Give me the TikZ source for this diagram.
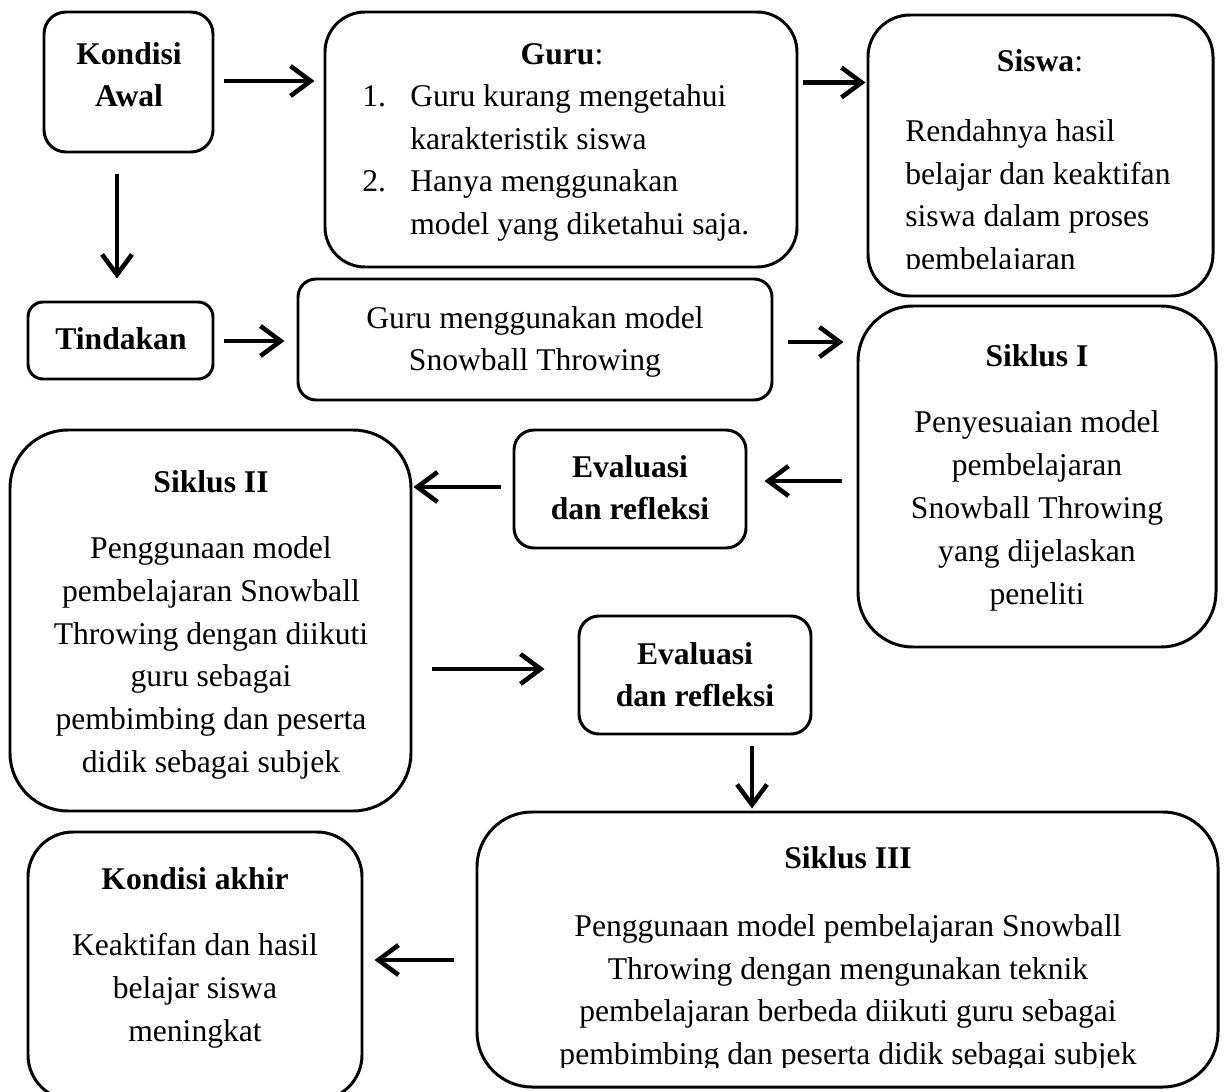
\documentclass[tikz,border=0pt]{standalone}
\usepackage{fontspec}
\setmainfont{Liberation Serif}
\usetikzlibrary{arrows.meta,calc,fit}
\newlength\pxu
\setlength\pxu{0.02cm}
\begin{document}
\begin{tikzpicture}[x=0.02cm,y=-0.02cm,
  box/.style={draw, line width=1.7pt, inner sep=0pt},
  txt/.style={inner sep=0pt, font={\fontsize{18}{24.4}\selectfont}, align=center,
    execute at begin node=\strut, execute at end node=\strut},
  arr/.style={line width=2.6pt, -{Straight Barb[length=11.5pt,width=17pt]}}]
\useasboundingbox (0,0) rectangle (1225,1092);

% boxes
\node[box, rounded corners=22\pxu, fit={(44,12)(213,152)}] (ka) {};
\node[box, rounded corners=40\pxu, fit={(325,12)(797,267)}] (guru) {};
\node[box, rounded corners=42\pxu, fit={(868,15)(1213,296)}] (siswa) {};
\node[box, rounded corners=15\pxu, fit={(28,302)(213,379)}] (tind) {};
\node[box, rounded corners=18\pxu, fit={(298,279)(772,400)}] (g2) {};
\node[box, rounded corners=55\pxu, fit={(858,306)(1216,647)}] (s1) {};
\node[box, rounded corners=58\pxu, fit={(10,430)(411,811)}] (s2) {};
\node[box, rounded corners=20\pxu, fit={(514,430)(746,548)}] (e1) {};
\node[box, rounded corners=20\pxu, fit={(579,616)(811,734)}] (e2) {};
\node[box, rounded corners=55\pxu, fit={(477,812)(1218,1087)}] (s3) {};
\node[box, rounded corners=45\pxu, fit={(28,832)(362,1100)}] (kak) {};

% texts
\node[txt] (kat) at (129,81) {\textbf{Kondisi}\\\textbf{Awal}};
\node[txt] (gurut) at (562,56) {\textbf{Guru}:};
\node[txt, align=left, anchor=west] (gurul) at (362,166)
  {\makebox[48\pxu][l]{1.}Guru kurang mengetahui\\
   \hspace*{48\pxu}karakteristik siswa\\
   \makebox[48\pxu][l]{2.}Hanya menggunakan\\
   \hspace*{48\pxu}model yang diketahui saja.};
\node[txt] (siswat) at (1040,63) {\textbf{Siswa}:};
\begin{scope}
  \clip (870,100) rectangle (1210,268);
  \node[txt, align=left, anchor=west] (siswab) at (905,201)
    {Rendahnya hasil\\belajar dan keaktifan\\siswa dalam proses\\pembelajaran};
\end{scope}
\node[txt] (tindt) at (121,341) {\textbf{Tindakan}};
\node[txt] (g2t) at (535,345) {Guru menggunakan model\\Snowball Throwing};
\node[txt] (s1t) at (1037,358) {\textbf{Siklus I}};
\node[txt] (s1b) at (1037,514) {Penyesuaian model\\pembelajaran\\Snowball Throwing\\yang dijelaskan\\peneliti};
\node[txt] (e1t) at (630,494) {\textbf{Evaluasi}\\\textbf{dan refleksi}};
\node[txt] (e2t) at (695,681) {\textbf{Evaluasi}\\\textbf{dan refleksi}};
\node[txt] (s2t) at (211,484) {\textbf{Siklus II}};
\node[txt] (s2b) at (211,661) {Penggunaan model\\pembelajaran Snowball\\Throwing dengan diikuti\\guru sebagai\\pembimbing dan peserta\\didik sebagai subjek};
\node[txt] (s3t) at (848,860) {\textbf{Siklus III}};
\begin{scope}
  \clip (480,880) rectangle (1215,1067);
  \node[txt] (s3b) at (848,996) {Penggunaan model pembelajaran Snowball\\Throwing dengan mengunakan teknik\\pembelajaran berbeda diikuti guru sebagai\\pembimbing dan peserta didik sebagai subjek};
\end{scope}
\node[txt] (kakt) at (195,881) {\textbf{Kondisi akhir}};
\node[txt] (kakb) at (195,994) {Keaktifan dan hasil\\belajar siswa\\meningkat};

% arrows
\draw[arr] ($(ka.east)+(10,-1)$) coordinate (a1) -- ($(a1 -| guru.west)+(-9,0)$);
\draw[arr] ($(guru.east)+(5,-57)$) coordinate (a2) -- ($(a2 -| siswa.west)+(-1,0)$);
\draw[arr] ($(ka.south)+(-11.5,21)$) coordinate (a3) -- ($(a3 |- tind.north)+(0,-22)$);
\draw[arr] ($(tind.east)+(10,0.5)$) coordinate (a4) -- ($(a4 -| g2.west)+(-12,0)$);
\draw[arr] ($(g2.east)+(15,2.5)$) coordinate (a5) -- ($(a5 -| s1.west)+(-13,0)$);
\draw[arr] ($(s1.west)+(-15,4.5)$) coordinate (a6) -- ($(a6 -| e1.east)+(17,0)$);
\draw[arr] ($(e1.west)+(-12,-2)$) coordinate (a7) -- ($(a7 -| s2.east)+(1,0)$);
\draw[arr] ($(s2.east)+(20,48.5)$) coordinate (a8) -- ($(a8 -| e2.west)+(-33,0)$);
\draw[arr] ($(e2.south)+(57,11)$) coordinate (a9) -- ($(a9 |- s3.north)+(0,-2)$);
\draw[arr] ($(s3.west)+(-22,10.5)$) coordinate (a10) -- ($(a10 -| kak.east)+(11,0)$);
\end{tikzpicture}
\end{document}
